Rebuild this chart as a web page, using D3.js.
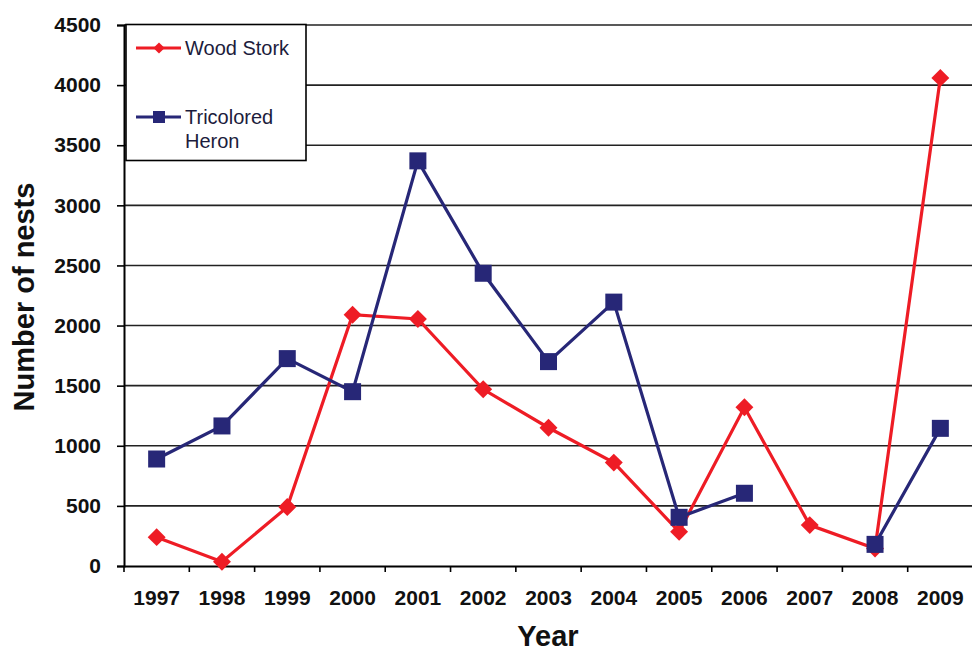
<!DOCTYPE html>
<html><head><meta charset="utf-8">
<script src="https://cdn.jsdelivr.net/npm/d3@7"></script>
<style>body{margin:0;background:#fff}svg{display:block}</style>
</head><body>
<svg id="c" width="972" height="652"></svg>
<script>
const years = ["1997","1998","1999","2000","2001","2002","2003","2004","2005","2006","2007","2008","2009"];
const woodStork = [240, 35, 490, 2090, 2055, 1470, 1150, 860, 285, 1320, 340, 145, 4060];
const tricoloredHeron = [890, 1165, 1725, 1450, 3370, 2435, 1700, 2195, 405, 605, null, 180, 1145];
const yTicks = [0, 500, 1000, 1500, 2000, 2500, 3000, 3500, 4000, 4500];
const seriesNames = ["Wood Stork", "Tricolored Heron"];

const svg = d3.select("#c");
const L = 124, R = 973, T = 25, B = 566;
const x = d3.scaleBand().domain(years).range([L, R]);
const y = d3.scaleLinear().domain([0, 4500]).range([B, T]);
const red = "#ee1c25", navy = "#272777";
const font = "'Liberation Sans', Arial, sans-serif";

// gridlines
svg.append("g").selectAll("line").data(yTicks.filter(d => d > 0)).join("line")
  .attr("x1", L).attr("x2", R).attr("y1", d => y(d)).attr("y2", d => y(d))
  .attr("stroke", "#222").attr("stroke-width", 1.6);

// y axis
const ya = svg.append("g").attr("transform", `translate(${L},0)`)
  .call(d3.axisLeft(y).tickValues(yTicks).tickFormat(d3.format("d")).tickSize(7).tickPadding(16));
ya.select(".domain").attr("stroke", "#000").attr("stroke-width", 2);
ya.selectAll(".tick line").attr("stroke", "#000").attr("stroke-width", 1.6);
ya.selectAll("text").attr("font-family", font).attr("font-weight", "bold")
  .attr("font-size", 21).attr("fill", "#111");

// x axis
const xa = svg.append("g").attr("transform", `translate(0,${B})`)
  .call(d3.axisBottom(x).tickSize(0).tickPadding(24));
xa.select(".domain").attr("stroke", "#000").attr("stroke-width", 2);
xa.selectAll("text").attr("font-family", font).attr("font-weight", "bold")
  .attr("font-size", 21).attr("fill", "#111");
// tick marks at band edges
const edges = years.map(d => x(d)).concat([R]);
svg.append("g").selectAll("line").data(edges).join("line")
  .attr("x1", d => d).attr("x2", d => d).attr("y1", B).attr("y2", B + 6)
  .attr("stroke", "#000").attr("stroke-width", 1.6);

const cx = d => x(d) + x.bandwidth() / 2;

// lines
const line = d3.line().defined(d => d.v != null).x(d => cx(d.yr)).y(d => y(d.v));
const ws = years.map((yr, i) => ({yr, v: woodStork[i]}));
const th = years.map((yr, i) => ({yr, v: tricoloredHeron[i]}));

svg.append("path").datum(ws).attr("d", line).attr("fill", "none")
  .attr("stroke", red).attr("stroke-width", 3.2);
svg.append("g").selectAll("path").data(ws).join("path")
  .attr("d", d3.symbol(d3.symbolDiamond2, 205)())
  .attr("transform", d => `translate(${cx(d.yr)},${y(d.v)})`)
  .attr("fill", red);

svg.append("path").datum(th).attr("d", line).attr("fill", "none")
  .attr("stroke", navy).attr("stroke-width", 3.2);
svg.append("g").selectAll("rect").data(th.filter(d => d.v != null)).join("rect")
  .attr("x", d => cx(d.yr) - 8.5).attr("y", d => y(d.v) - 8.5)
  .attr("width", 17).attr("height", 17).attr("fill", navy);

// legend
const lg = svg.append("g");
lg.append("rect").attr("x", 126).attr("y", 24.5).attr("width", 180).attr("height", 136)
  .attr("fill", "#fff").attr("stroke", "#000").attr("stroke-width", 1.6);
lg.append("line").attr("x1", 136).attr("x2", 181).attr("y1", 48).attr("y2", 48)
  .attr("stroke", red).attr("stroke-width", 3);
lg.append("path").attr("d", d3.symbol(d3.symbolDiamond2, 80)())
  .attr("transform", "translate(159,48)").attr("fill", red);
lg.append("line").attr("x1", 136).attr("x2", 181).attr("y1", 117).attr("y2", 117)
  .attr("stroke", navy).attr("stroke-width", 3);
lg.append("rect").attr("x", 153).attr("y", 111).attr("width", 12).attr("height", 12).attr("fill", navy);
const lt = lg.append("g").attr("font-family", font).attr("font-size", 20).attr("fill", "#1c1c3c");
lt.append("text").attr("x", 185).attr("y", 55).text(seriesNames[0]);
lt.append("text").attr("x", 185).attr("y", 124).text("Tricolored");
lt.append("text").attr("x", 185).attr("y", 148).text("Heron");

// axis titles
svg.append("text").attr("x", 548).attr("y", 646).attr("text-anchor", "middle")
  .attr("font-family", font).attr("font-weight", "bold").attr("font-size", 29).attr("fill", "#111")
  .text("Year");
svg.append("text").attr("transform", "translate(34,297) rotate(-90)").attr("text-anchor", "middle")
  .attr("font-family", font).attr("font-weight", "bold").attr("font-size", 29).attr("fill", "#111")
  .text("Number of nests");
</script>
</body></html>
